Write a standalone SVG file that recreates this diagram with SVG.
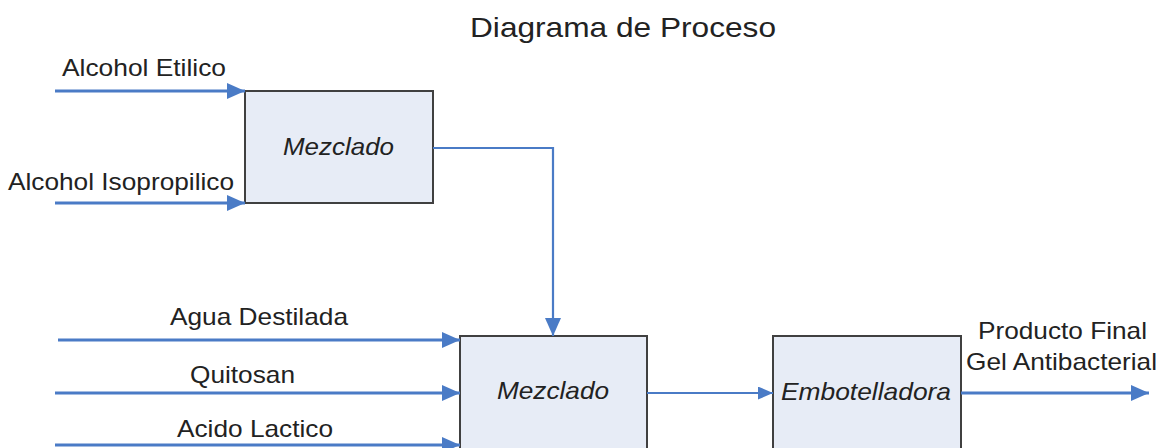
<svg xmlns="http://www.w3.org/2000/svg" width="1160" height="448" viewBox="0 0 1160 448">
<style>
.box{fill:#e7ecf6;stroke:#404040;stroke-width:2}
.lbl{font-family:"Liberation Sans",Arial,sans-serif;font-size:24px;fill:#222}
.it{font-style:italic}
.flow{fill:none;stroke:#4a7bc6;stroke-width:3}
.thin{fill:none;stroke:#4a7bc6;stroke-width:2.2}
</style>
<defs>
<marker id="ah" markerUnits="userSpaceOnUse" markerWidth="20" markerHeight="18" refX="18" refY="8" orient="auto">
<path d="M0,0 L18,8 L0,16 Z" fill="#4a7bc6"/>
</marker>
<marker id="ahs" markerUnits="userSpaceOnUse" markerWidth="18" markerHeight="14" refX="15" refY="6.5" orient="auto">
<path d="M0,0 L15,6.5 L0,13 Z" fill="#4a7bc6"/>
</marker>
</defs>
<rect width="1160" height="448" fill="#fff"/>
<text class="lbl" x="470" y="37" style="font-size:28px" textLength="306" lengthAdjust="spacingAndGlyphs">Diagrama de Proceso</text>
<g id="mix1">
<rect class="box" x="245" y="91" width="188" height="112"/>
<text class="lbl it" x="283" y="155" textLength="111" lengthAdjust="spacingAndGlyphs">Mezclado</text>
</g>
<g id="mix2">
<rect class="box" x="460" y="336" width="187" height="140"/>
<text class="lbl it" x="497" y="399" textLength="112" lengthAdjust="spacingAndGlyphs">Mezclado</text>
</g>
<g id="bottling">
<rect class="box" x="773" y="336" width="188" height="140"/>
<text class="lbl it" x="781" y="400" textLength="170" lengthAdjust="spacingAndGlyphs">Embotelladora</text>
</g>
<g id="labels">
<text class="lbl" x="62" y="76" textLength="164" lengthAdjust="spacingAndGlyphs">Alcohol Etilico</text>
<text class="lbl" x="8" y="190" textLength="226" lengthAdjust="spacingAndGlyphs">Alcohol Isopropilico</text>
<text class="lbl" x="170" y="325" textLength="178" lengthAdjust="spacingAndGlyphs">Agua Destilada</text>
<text class="lbl" x="190" y="383" textLength="105" lengthAdjust="spacingAndGlyphs">Quitosan</text>
<text class="lbl" x="177" y="437" textLength="156" lengthAdjust="spacingAndGlyphs">Acido Lactico</text>
<text class="lbl" x="978" y="339" textLength="169" lengthAdjust="spacingAndGlyphs">Producto Final</text>
<text class="lbl" x="966" y="370" textLength="191" lengthAdjust="spacingAndGlyphs">Gel Antibacterial</text>
</g>
<g id="connectors">
<path class="flow" d="M55,91 H245" marker-end="url(#ah)"/>
<path class="flow" d="M55,203 H245" marker-end="url(#ah)"/>
<path class="flow" d="M58,340 H460" marker-end="url(#ah)"/>
<path class="flow" d="M55,393 H460" marker-end="url(#ah)"/>
<path class="flow" d="M55,445 H460" marker-end="url(#ah)"/>
<path class="thin" d="M433,148 H553 V336" marker-end="url(#ah)"/>
<path class="thin" d="M647,393 H773" marker-end="url(#ahs)"/>
<path class="flow" d="M961,393 H1149" marker-end="url(#ah)"/>
</g>
</svg>
